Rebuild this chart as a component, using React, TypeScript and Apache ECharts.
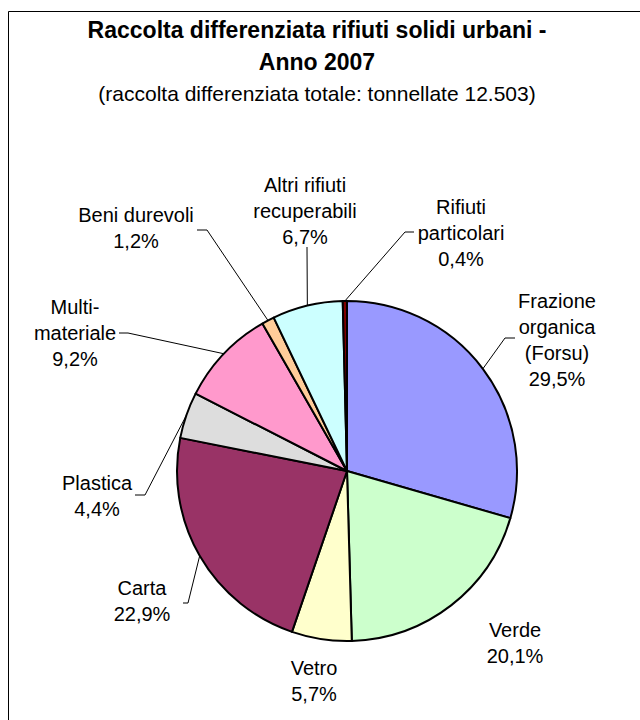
import React, { useEffect, useRef } from "react";
import * as echarts from "echarts";

const categories = [
  "Frazione\norganica\n(Forsu)",
  "Verde",
  "Vetro",
  "Carta",
  "Plastica",
  "Multi-\nmateriale",
  "Beni durevoli",
  "Altri rifiuti\nrecuperabili",
  "Rifiuti\nparticolari",
];
const percentages = [29.5, 20.1, 5.7, 22.9, 4.4, 9.2, 1.2, 6.7, 0.4];
const colors = [
  "#9999FF",
  "#CCFFCC",
  "#FFFFCC",
  "#993366",
  "#DDDDDD",
  "#FF99CC",
  "#FFCC99",
  "#CCFFFF",
  "#800000",
];
const titleLines = ["Raccolta differenziata rifiuti solidi urbani -", "Anno 2007"];
const subtitle = "(raccolta differenziata totale: tonnellate 12.503)";

// label placement (layout only)
const labelPlacement: { x: number; y: number; elbow?: number[]; end?: number[] }[] = [
  { x: 557, y: 340, elbow: [505, 338], end: [515, 338] },
  { x: 515, y: 643 },
  { x: 314, y: 681 },
  { x: 142, y: 601, elbow: [188, 603], end: [183, 603] },
  { x: 97, y: 496, elbow: [145, 495], end: [135, 495] },
  { x: 75, y: 333, elbow: [128, 333], end: [119, 333] },
  { x: 136, y: 228, elbow: [207, 230], end: [197, 230] },
  { x: 305, y: 211, elbow: [307, 247], end: [307, 247] },
  { x: 461, y: 233, elbow: [405, 232], end: [414, 232] },
];

const FONT = "'Liberation Sans', Arial, Helvetica, sans-serif";

export default function App() {
  const ref = useRef<HTMLDivElement>(null);
  useEffect(() => {
    if (!ref.current) return;
    const chart = echarts.init(ref.current, undefined, { renderer: "svg" });
    const data = categories.map((name, i) => ({
      name,
      value: percentages[i],
      itemStyle: { color: colors[i] },
      labelLine: { show: !!labelPlacement[i].end },
    }));
    chart.setOption({
      animation: false,
      backgroundColor: "#ffffff",
      graphic: [
        {
          type: "rect",
          shape: { x: 8.5, y: 11.5, width: 700, height: 800 },
          style: { fill: "none", stroke: "#000", lineWidth: 1 },
          silent: true,
        },
        {
          type: "text",
          style: {
            text: titleLines[0],
            x: 317,
            y: 30,
            textAlign: "center",
            textVerticalAlign: "middle",
            font: `bold 23px ${FONT}`,
            fill: "#000",
          },
        },
        {
          type: "text",
          style: {
            text: titleLines[1],
            x: 317,
            y: 62,
            textAlign: "center",
            textVerticalAlign: "middle",
            font: `bold 23px ${FONT}`,
            fill: "#000",
          },
        },
        {
          type: "text",
          style: {
            text: subtitle,
            x: 317,
            y: 93,
            textAlign: "center",
            textVerticalAlign: "middle",
            font: `21px ${FONT}`,
            fill: "#000",
          },
        },
      ],
      series: [
        {
          type: "pie",
          center: [347, 471],
          radius: 170,
          startAngle: 90,
          clockwise: true,
          avoidLabelOverlap: false,
          data,
          itemStyle: { borderColor: "#000", borderWidth: 2 },
          label: {
            show: true,
            position: "outside",
            color: "#000",
            fontSize: 20,
            lineHeight: 26,
            fontFamily: FONT,
            align: "center",
            formatter: (p: any) =>
              `${p.name}\n${p.value.toFixed(1).replace(".", ",")}%`,
          },
          labelLine: {
            show: true,
            length: 10,
            length2: 10,
            lineStyle: { color: "#000", width: 1 },
          },
          labelLayout: (params: any) => {
            const lp = labelPlacement[params.dataIndex];
            const res: any = {
              x: lp.x,
              y: lp.y,
              align: "center",
              verticalAlign: "middle",
            };
            if (lp.end && params.labelLinePoints) {
              res.labelLinePoints = [
                params.labelLinePoints[0],
                lp.elbow,
                lp.end,
              ];
            }
            return res;
          },
          emphasis: { disabled: true },
        },
      ],
    });
    return () => chart.dispose();
  }, []);
  return (
    <div
      ref={ref}
      style={{ position: "absolute", left: 0, top: 0, width: 640, height: 720 }}
    />
  );
}
